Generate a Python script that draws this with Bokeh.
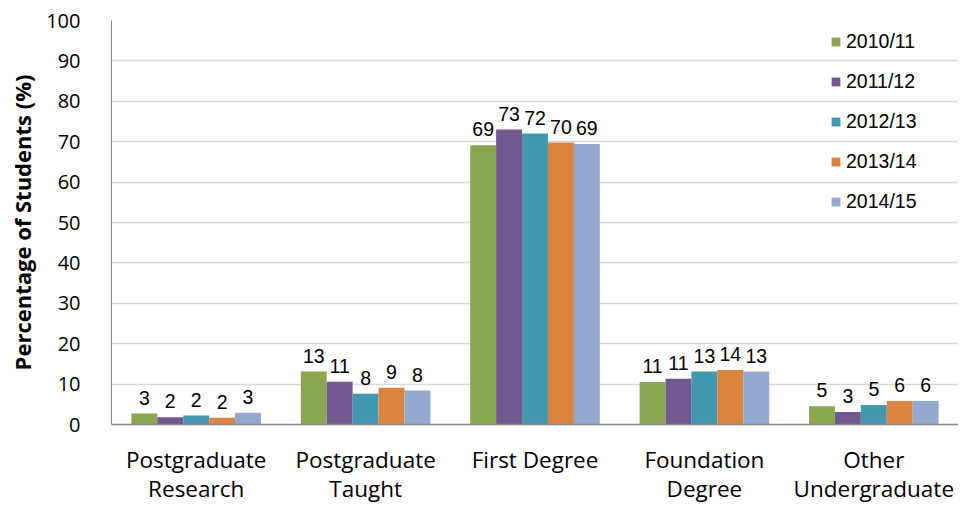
import numpy as np
from bokeh.plotting import figure
from bokeh.models import ColumnDataSource, FixedTicker, LinearAxis, Legend, LegendItem, Range1d
from bokeh.transform import dodge
from bokeh.core.properties import value
from bokeh.embed import file_html
from bokeh.resources import INLINE

categories = ["Postgraduate Research", "Postgraduate Taught", "First Degree",
              "Foundation Degree", "Other Undergraduate"]
label_line1 = ["Postgraduate", "Postgraduate", "First Degree", "Foundation", "Other"]
label_line2 = ["Research", "Taught", "", "Degree", "Undergraduate"]
years = ["2010/11", "2011/12", "2012/13", "2013/14", "2014/15"]
v2010 = [2.7, 13.1, 69.1, 10.5, 4.5]
v2011 = [1.8, 10.6, 73.0, 11.3, 3.1]
v2012 = [2.2, 7.6, 72.0, 13.1, 4.8]
v2013 = [1.7, 9.1, 69.8, 13.5, 5.8]
v2014 = [2.9, 8.4, 69.4, 13.1, 5.8]
lab2010 = ["3", "13", "69", "11", "5"]
lab2011 = ["2", "11", "73", "11", "3"]
lab2012 = ["2", "8", "72", "13", "5"]
lab2013 = ["2", "9", "70", "14", "6"]
lab2014 = ["3", "8", "69", "13", "6"]
y_ticks = list(range(0, 101, 10))

series = [v2010, v2011, v2012, v2013, v2014]
labels = [lab2010, lab2011, lab2012, lab2013, lab2014]
colors = ["#8BA650", "#71588F", "#4198AF", "#DB843D", "#93A9CF"]

centers = [i + 0.5 for i in range(len(categories))]

p = figure(width=958, height=506, output_backend="svg", toolbar_location=None,
           x_range=Range1d(0, 5), y_range=Range1d(0, 100),
           min_border_left=111, min_border_top=20, min_border_right=0,
           min_border_bottom=10, x_axis_location=None)
p.outline_line_color = None
p.background_fill_color = "white"

bw = 0.153
items = []
for k, (vals, labs, col, yr) in enumerate(zip(series, labels, colors, years)):
    src = ColumnDataSource(dict(x=centers, y=vals, lab=labs))
    off = (k - 2) * bw
    r = p.vbar(x=dodge("x", off), top="y", width=bw, source=src,
               fill_color=col, line_color=None)
    p.text(x=dodge("x", off), y="y", text="lab", source=src,
           text_align="center", text_baseline="alphabetic", y_offset=-16,
           text_font=value("Liberation Sans"), text_font_size="19.5px",
           text_color="black")
    items.append(LegendItem(label=yr, renderers=[r]))

# Y axis
ya = p.yaxis[0]
ya.ticker = FixedTicker(ticks=y_ticks)
ya.axis_line_color = "#868686"
ya.major_tick_line_color = None
ya.minor_tick_line_color = None
ya.major_label_standoff = 25
ya.major_label_text_font = "Open Sans"
ya.major_label_text_font_size = "20px"
ya.major_label_text_color = "black"
ya.axis_label = "Percentage of Students (%)"
ya.axis_label_text_font = "Open Sans"
ya.axis_label_text_font_style = "bold"
ya.axis_label_text_font_size = "22px"
ya.axis_label_text_color = "black"
ya.axis_label_standoff = 6

p.ygrid.grid_line_color = "#D9D9D9"
p.ygrid.grid_line_width = 1.5
p.ygrid.ticker = FixedTicker(ticks=y_ticks)
p.xgrid.grid_line_color = None

# X axis: two stacked axes for two-line category labels
xa1 = LinearAxis(ticker=FixedTicker(ticks=centers),
                 major_label_overrides={c: t for c, t in zip(centers, label_line1)})
xa2 = LinearAxis(ticker=FixedTicker(ticks=centers),
                 major_label_overrides={c: t for c, t in zip(centers, label_line2)})
for a in (xa1, xa2):
    a.major_tick_line_color = None
    a.minor_tick_line_color = None
    a.major_label_text_font = "Open Sans"
    a.major_label_text_font_size = "22.5px"
    a.major_label_text_color = "black"
xa1.axis_line_color = "#868686"
xa1.axis_line_width = 1.5
xa1.major_label_standoff = 13
xa2.axis_line_color = None
xa2.major_label_standoff = -11
p.add_layout(xa1, "below")
p.add_layout(xa2, "below")

legend = Legend(items=items, location=(719, 211), orientation="vertical",
                glyph_width=11, glyph_height=11, label_height=20, spacing=17,
                padding=0, margin=0, label_standoff=5,
                label_text_font="Liberation Sans", label_text_font_size="19.5px",
                label_text_color="black", border_line_color=None,
                background_fill_alpha=0)
p.add_layout(legend)

open("out.html", "w").write(file_html(p, INLINE))
